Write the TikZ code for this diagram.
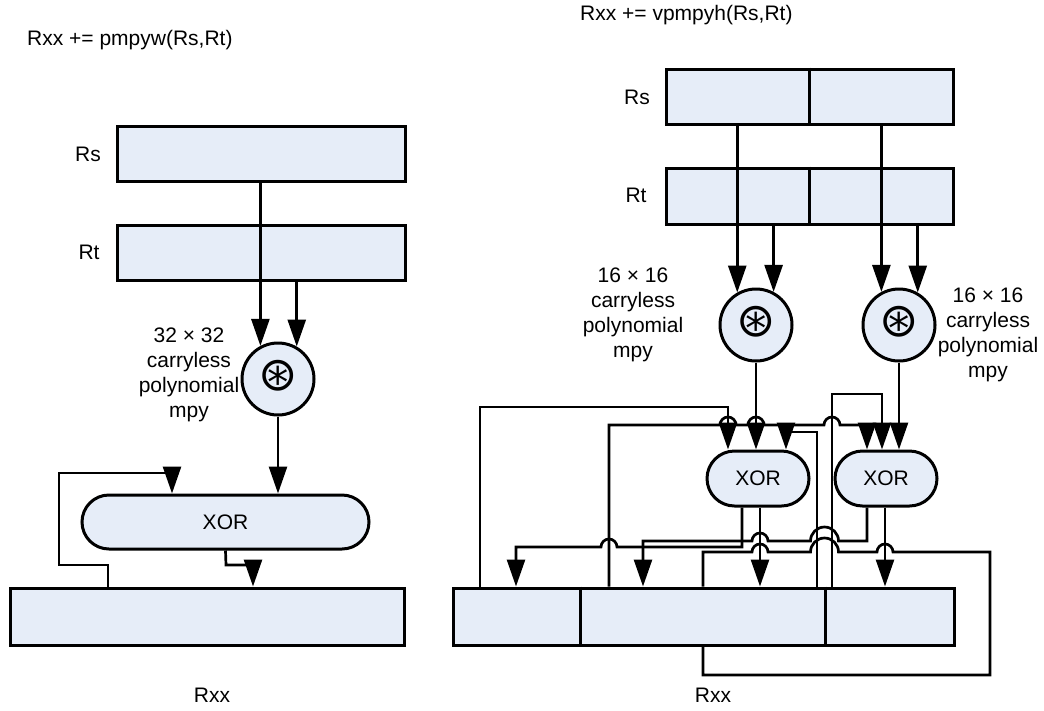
\documentclass[tikz,border=0pt]{standalone}
\usepackage{fontspec}
\setmainfont{Liberation Sans}
\newfontfamily\symf{DejaVu Sans}
\usetikzlibrary{arrows.meta,shapes.misc}
\definecolor{boxfill}{RGB}{230,237,248}
\begin{document}
\begin{tikzpicture}[x=1pt,y=-1pt,
  lw/.style={line width=2.7pt, line join=miter},
  arr/.style={lw, -{Triangle[width=18pt,length=27pt]}},
  reg/.style={draw, fill=boxfill, line width=3pt, inner sep=0pt, font=\fontsize{21}{25}\selectfont},
  txt/.style={inner sep=0pt, font=\fontsize{21}{25}\selectfont, align=center},
  mult/.style={reg, circle, minimum size=72pt},
  sym/.style={inner sep=0pt, font=\symf\fontsize{47}{47}\selectfont},
  xorbox/.style={reg, rounded rectangle}]
\useasboundingbox (0,0) rectangle (1044,710);

% ---------- left: pmpyw ----------
\node[txt, anchor=west] (titleL) at (27,40) {Rxx += pmpyw(Rs,Rt)};
\node[reg, minimum width=288pt, minimum height=55pt] (rsL) at (261,153.5) {};
\node[reg, minimum width=288pt, minimum height=55pt] (rtL) at (261,252.5) {};
\node[txt] (rsLlab) at (88,154) {Rs};
\node[txt] (rtLlab) at (89,252) {Rt};
\node[mult] (cL) at (278,379) {};
\node[sym] (cLsym) at ([yshift=3pt]cL.center) {⊛};
\node[txt] (cLlab) at (189,375) {32 × 32\\carryless\\polynomial\\mpy};
\node[xorbox, minimum width=287pt, minimum height=54pt] (xorL) at (225.5,522) {XOR};
\node[reg, minimum width=394pt, minimum height=57pt] (rxxL) at (207,616.5) {};
\node[txt] (rxxLlab) at (212,695) {Rxx};

\draw[arr] (cL.118 |- rsL.south) -- (cL.118);
\draw[arr] (cL.60 |- rtL.south) -- (cL.60);
\draw[arr] (cL.south) -- (cL.south |- xorL.north);
\draw[arr] (108,0 |- rxxL.north) -- (108,565) -- (59,565) -- (59,473) -- (172,473) -- (172,0 |- xorL.north);
\draw[arr] (xorL.south) -- (226,565) -- (253,565) -- (253,0 |- rxxL.north);

% ---------- right: vpmpyh ----------
\node[txt, anchor=west] (titleR) at (580,15) {Rxx += vpmpyh(Rs,Rt)};
\node[reg, minimum width=287pt, minimum height=55pt] (rsR) at (809.5,96.5) {};
\node[reg, minimum width=287pt, minimum height=56pt] (rtR) at (809.5,196) {};
\draw[line width=3pt] (rsR.north) -- (rsR.south);
\draw[line width=3pt] (rtR.north) -- (rtR.south);
\node[txt] (rsRlab) at (637,97) {Rs};
\node[txt] (rtRlab) at (636,195) {Rt};
\node[mult] (c1) at (756,325) {};
\node[mult] (c2) at (899,325) {};
\node[sym] (c1sym) at ([yshift=3pt]c1.center) {⊛};
\node[sym] (c2sym) at ([yshift=3pt]c2.center) {⊛};
\node[txt] (c1lab) at (633,315) {16 × 16\\carryless\\polynomial\\mpy};
\node[txt] (c2lab) at (988,335) {16 × 16\\carryless\\polynomial\\mpy};
\node[xorbox, minimum width=102pt, minimum height=55pt] (xorA) at (758,478.5) {XOR};
\node[xorbox, minimum width=102pt, minimum height=55pt] (xorB) at (886,478.5) {XOR};
\node[reg, minimum width=501pt, minimum height=57pt] (rxxR) at (703.5,616.5) {};
\draw[line width=3pt] (rxxR.north -| 580,0) -- (rxxR.south -| 580,0);
\draw[line width=3pt] (rxxR.north -| 825,0) -- (rxxR.south -| 825,0);
\node[txt] (rxxRlab) at (713,695) {Rxx};

% operands into multipliers
\draw[arr] (c1.120 |- rsR.south) -- (c1.120);
\draw[arr] (c1.62 |- rtR.south) -- (c1.62);
\draw[arr] (c2.118 |- rsR.south) -- (c2.118);
\draw[arr] (c2.60 |- rtR.south) -- (c2.60);

% into XORs
\draw[arr] (c1.south) -- (c1.south |- xorA.north);
\draw[arr] (c2.south) -- (c2.south |- xorB.north);
\draw[arr] (480,0 |- rxxR.north) -- (480,407) -- (728,407) -- (728,0 |- xorA.north);
\draw[arr] (609,0 |- rxxR.north) -- (609,425) -- (720,425) arc[start angle=180,end angle=0,radius=8pt]
   -- (748,425) arc[start angle=180,end angle=0,radius=8pt]
   -- (824,425) arc[start angle=180,end angle=0,radius=8pt]
   -- (867,425) -- (867,0 |- xorB.north);
\draw[arr] (817,0 |- rxxR.north) -- (817,432) -- (786,432) -- (786,0 |- xorA.north);
\draw[arr] (832,0 |- rxxR.north) -- (832,394) -- (882,394) -- (882,0 |- xorB.north);

% XOR outputs
\draw[arr] (742,0 |- xorA.south) -- (742,547) -- (617,547) arc[start angle=0,end angle=180,radius=8pt]
   -- (516,547) -- (516,0 |- rxxR.north);
\draw[arr] (760,0 |- xorA.south) -- (760,0 |- rxxR.north);
\draw[arr] (867,0 |- xorB.south) -- (867,541) -- (838.5,541) arc[start angle=0,end angle=180,radius=14pt]
   -- (768,541) arc[start angle=0,end angle=180,radius=8pt]
   -- (643,541) -- (643,0 |- rxxR.north);
\draw[arr] (885,0 |- xorB.south) -- (885,0 |- rxxR.north);
\draw[lw] (703,0 |- rxxR.north) -- (703,552) -- (752,552) arc[start angle=180,end angle=0,radius=8pt]
   -- (810.5,552) arc[start angle=180,end angle=0,radius=14pt]
   -- (877,552) arc[start angle=180,end angle=0,radius=8pt]
   -- (990,552) -- (990,675) -- (703,675) -- (703,0 |- rxxR.south);
\end{tikzpicture}
\end{document}
